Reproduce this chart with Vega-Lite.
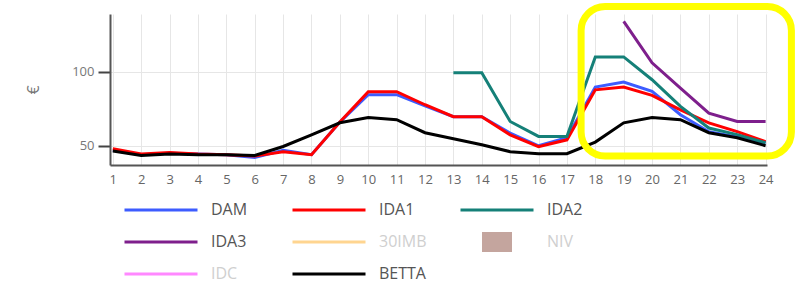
{
  "$schema": "https://vega.github.io/schema/vega-lite/v6.json",
  "width": 657,
  "height": 151,
  "autosize": {"type": "none"},
  "padding": {"left": 110, "top": 14, "right": 29, "bottom": 121},
  "background": "white",
  "config": {"view": {"stroke": null}, "font": "Open Sans"},
  "layer": [
    {
      "data": {"values": [
        {"h":1,"s":"DAM","v":47},{"h":2,"s":"DAM","v":44},{"h":3,"s":"DAM","v":45},{"h":4,"s":"DAM","v":44.5},{"h":5,"s":"DAM","v":44},{"h":6,"s":"DAM","v":42},{"h":7,"s":"DAM","v":47},{"h":8,"s":"DAM","v":44},{"h":9,"s":"DAM","v":66},{"h":10,"s":"DAM","v":84.5},{"h":11,"s":"DAM","v":84.5},{"h":12,"s":"DAM","v":77},{"h":13,"s":"DAM","v":69.6},{"h":14,"s":"DAM","v":69.6},{"h":15,"s":"DAM","v":58.5},{"h":16,"s":"DAM","v":50},{"h":17,"s":"DAM","v":55.5},{"h":18,"s":"DAM","v":89.7},{"h":19,"s":"DAM","v":93},{"h":20,"s":"DAM","v":86.7},{"h":21,"s":"DAM","v":71},{"h":22,"s":"DAM","v":59.5},{"h":23,"s":"DAM","v":56},{"h":24,"s":"DAM","v":52},
        {"h":1,"s":"IDA1","v":48},{"h":2,"s":"IDA1","v":44.5},{"h":3,"s":"IDA1","v":45.5},{"h":4,"s":"IDA1","v":44.5},{"h":5,"s":"IDA1","v":44},{"h":6,"s":"IDA1","v":43},{"h":7,"s":"IDA1","v":46},{"h":8,"s":"IDA1","v":44},{"h":9,"s":"IDA1","v":66},{"h":10,"s":"IDA1","v":86.5},{"h":11,"s":"IDA1","v":86.5},{"h":12,"s":"IDA1","v":77.7},{"h":13,"s":"IDA1","v":69.6},{"h":14,"s":"IDA1","v":69.6},{"h":15,"s":"IDA1","v":57.4},{"h":16,"s":"IDA1","v":49.4},{"h":17,"s":"IDA1","v":54},{"h":18,"s":"IDA1","v":87.8},{"h":19,"s":"IDA1","v":89.7},{"h":20,"s":"IDA1","v":84},{"h":21,"s":"IDA1","v":74.3},{"h":22,"s":"IDA1","v":65.5},{"h":23,"s":"IDA1","v":59.5},{"h":24,"s":"IDA1","v":52.8},
        {"h":13,"s":"IDA2","v":99.3},{"h":14,"s":"IDA2","v":99.3},{"h":15,"s":"IDA2","v":66.4},{"h":16,"s":"IDA2","v":56.3},{"h":17,"s":"IDA2","v":56.3},{"h":18,"s":"IDA2","v":110},{"h":19,"s":"IDA2","v":110},{"h":20,"s":"IDA2","v":94.6},{"h":21,"s":"IDA2","v":76.6},{"h":22,"s":"IDA2","v":62},{"h":23,"s":"IDA2","v":57.5},{"h":24,"s":"IDA2","v":52},
        {"h":19,"s":"IDA3","v":134},{"h":20,"s":"IDA3","v":106},{"h":21,"s":"IDA3","v":89},{"h":22,"s":"IDA3","v":72},{"h":23,"s":"IDA3","v":66.4},{"h":24,"s":"IDA3","v":66.4},
        {"h":1,"s":"BETTA","v":46.5},{"h":2,"s":"BETTA","v":43.5},{"h":3,"s":"BETTA","v":44.5},{"h":4,"s":"BETTA","v":44},{"h":5,"s":"BETTA","v":44},{"h":6,"s":"BETTA","v":43.5},{"h":7,"s":"BETTA","v":49.5},{"h":8,"s":"BETTA","v":57.4},{"h":9,"s":"BETTA","v":65.5},{"h":10,"s":"BETTA","v":69},{"h":11,"s":"BETTA","v":67.6},{"h":12,"s":"BETTA","v":58.8},{"h":13,"s":"BETTA","v":54.7},{"h":14,"s":"BETTA","v":50.7},{"h":15,"s":"BETTA","v":46},{"h":16,"s":"BETTA","v":44.6},{"h":17,"s":"BETTA","v":44.6},{"h":18,"s":"BETTA","v":52.5},{"h":19,"s":"BETTA","v":65.5},{"h":20,"s":"BETTA","v":69},{"h":21,"s":"BETTA","v":67.6},{"h":22,"s":"BETTA","v":58.8},{"h":23,"s":"BETTA","v":55.4},{"h":24,"s":"BETTA","v":50}
      ]},
      "mark": {"type": "line", "strokeWidth": 3},
      "encoding": {
        "x": {
          "field": "h", "type": "quantitative",
          "scale": {"domain": [0.9, 24.05], "nice": false, "zero": false},
          "axis": {
            "values": [1,2,3,4,5,6,7,8,9,10,11,12,13,14,15,16,17,18,19,20,21,22,23,24],
            "tickCount": 30,
            "title": null, "ticks": false, "labelPadding": 8, "labelFontSize": 13,
            "labelColor": "#666", "domainColor": "#555", "domainWidth": 2,
            "gridColor": "#e6e6e6", "format": "d", "labelFlush": false, "labelOverlap": false
          }
        },
        "y": {
          "field": "v", "type": "quantitative",
          "scale": {"domain": [37, 139], "nice": false, "zero": false},
          "axis": {
            "values": [50, 100], "title": "€", "titleFontSize": 16, "titleColor": "#777",
            "titleFontWeight": "normal", "titlePadding": 30, "labelFontSize": 13,
            "labelColor": "#777", "labelPadding": 4, "tickSize": 12, "tickColor": "#444",
            "tickWidth": 2, "domainColor": "#555", "domainWidth": 2, "gridColor": "#e6e6e6"
          }
        },
        "color": {
          "field": "s", "type": "nominal",
          "scale": {
            "domain": ["DAM", "IDA1", "IDA2", "IDA3", "30IMB", "NIV", "IDC", "BETTA"],
            "range": ["#3d5cff", "#ff0000", "#158078", "#7e1f8c", "#ffd590", "#c4a59e", "#ff88ff", "#000000"]
          },
          "legend": {
            "orient": "none", "legendX": 13, "legendY": 186, "padding": 0,
            "direction": "horizontal",
            "columns": 3, "title": null, "symbolType": "stroke", "symbolSize": 5329,
            "symbolStrokeWidth": 3, "labelOffset": 12, "labelFontSize": 16,
            "columnPadding": 32, "rowPadding": 12, "clipHeight": 20, "gridAlign": "all",
            "encode": {
              "symbols": {"update": {
                "shape": {"signal": "datum.label === 'NIV' ? 'M-0.37,-0.233H0.37V0.233H-0.37Z' : 'stroke'"},
                "fill": {"signal": "datum.label === 'NIV' ? '#c4a59e' : 'transparent'"}
              }},
              "labels": {"update": {
                "fill": {"signal": "indexof(['30IMB','NIV','IDC'], datum.label) >= 0 ? '#cfcfcf' : '#555'"}
              }}
            }
          }
        }
      }
    },
    {
      "data": {"values": [{"x1": 17.5, "x2": 24.91, "y1": 144.07, "y2": 43.08}]},
      "mark": {"type": "rect", "filled": false, "stroke": "#FFFF00", "strokeWidth": 7, "cornerRadius": 24},
      "encoding": {
        "x": {"field": "x1", "type": "quantitative", "scale": {"domain": [0.9, 24.05], "nice": false, "zero": false}},
        "x2": {"field": "x2"},
        "y": {"field": "y1", "type": "quantitative", "scale": {"domain": [37, 139], "nice": false, "zero": false}},
        "y2": {"field": "y2"}
      }
    }
  ]
}
